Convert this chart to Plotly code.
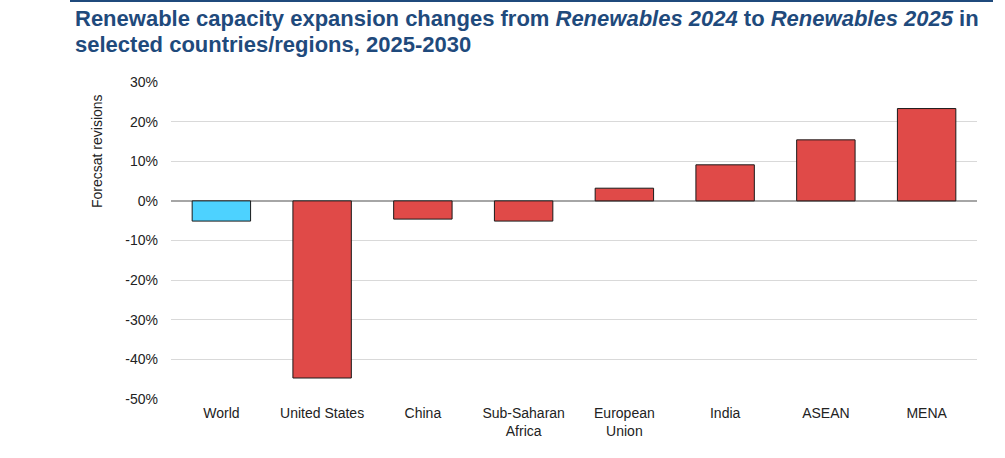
import plotly.graph_objects as go

categories = ["World", "United States", "China", "Sub-Saharan<br>Africa", "European<br>Union", "India", "ASEAN", "MENA"]
values = [-5.1, -44.7, -4.6, -5.1, 3.2, 9.1, 15.4, 23.3]
colors = ["#4DD2FF", "#E04A48", "#E04A48", "#E04A48", "#E04A48", "#E04A48", "#E04A48", "#E04A48"]
tick_vals = [-50, -40, -30, -20, -10, 0, 10, 20, 30]
tick_text = [f"{v}%" for v in tick_vals]
title_lines = [
    "<b>Renewable capacity expansion changes from <i>Renewables 2024</i> to <i>Renewables 2025</i> in</b>",
    "<b>selected countries/regions, 2025-2030</b>",
]

W, H = 1005, 458
L, R, T, B = 171, 977, 82, 399
pw, ph = R - L, B - T

def px_x(x):
    return (x - L) / pw

def px_y(y):
    return (B - y) / ph

fig = go.Figure()
fig.add_trace(go.Bar(
    x=categories, y=values,
    marker=dict(color=colors, line=dict(color="#1a1a1a", width=1)),
    width=0.58,
))

fig.update_layout(
    width=W, height=H,
    margin=dict(l=L, r=W - R, t=T, b=H - B),
    paper_bgcolor="white", plot_bgcolor="white",
    font=dict(family="Liberation Sans, Arial, sans-serif", size=14, color="#222"),
    showlegend=False,
    xaxis=dict(showgrid=False, showline=False, ticks="", tickfont=dict(size=14),
               ticklabelstandoff=4),
    yaxis=dict(range=[-50, 30], tickvals=tick_vals, ticktext=tick_text,
               showgrid=True, gridcolor="#d9d9d9", gridwidth=1,
               zeroline=True, zerolinecolor="#a6a6a6", zerolinewidth=1.5,
               showline=False, ticks="", ticklabelstandoff=12, tickfont=dict(size=14)),
)
fig.add_shape(type="line", xref="paper", yref="paper",
              x0=px_x(70), x1=px_x(993), y0=px_y(1), y1=px_y(1),
              line=dict(color="#1F4A7C", width=2))
fig.add_annotation(
    xref="paper", yref="paper", x=px_x(97), y=px_y(151), xanchor="center", yanchor="middle",
    textangle=-90, showarrow=False, text="Forecsat revisions",
    font=dict(family="Liberation Sans, Arial, sans-serif", size=14, color="#222"),
)
for i, line in enumerate(title_lines):
    fig.add_annotation(
        xref="paper", yref="paper", x=px_x(73), y=px_y(4 + 26 * i), xanchor="left", yanchor="top",
        align="left", showarrow=False, text=line,
        font=dict(family="Liberation Sans, Arial, sans-serif", size=22, color="#1F4A7C"),
    )
fig.write_html("out.html", config={"displayModeBar": False},
               post_script="document.body.style.margin='0';document.body.style.padding='0';")
